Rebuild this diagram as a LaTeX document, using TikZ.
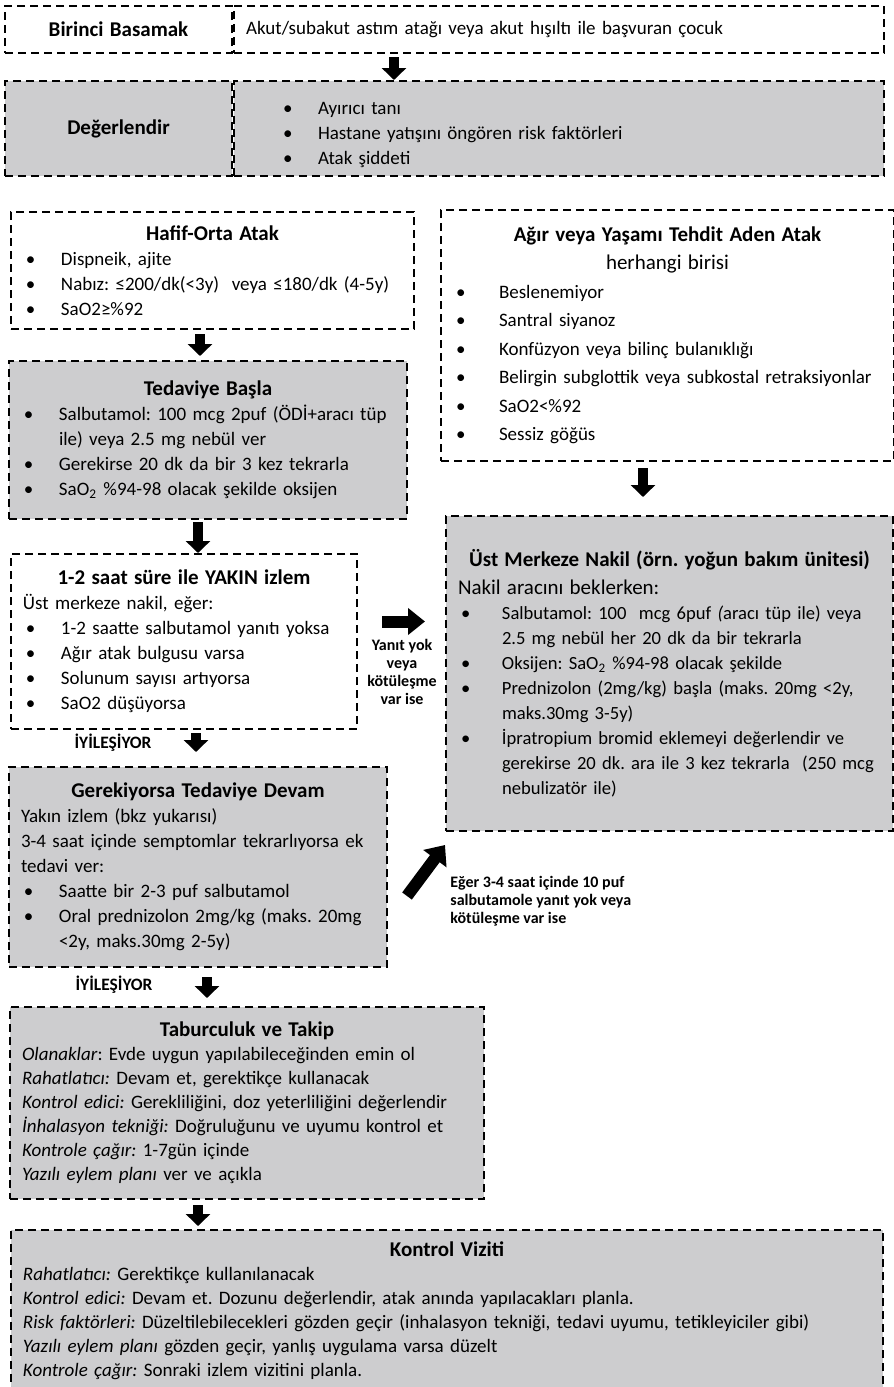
\documentclass[tikz,border=0pt]{standalone}
\usepackage{fontspec}
\setmainfont{Carlito}
\usetikzlibrary{positioning, arrows.meta}

\definecolor{kutugri}{RGB}{205,205,207}
\newlength\girinti
\setlength\girinti{19pt}
\newcommand{\baslik}[1]{{\centering\bfseries\fontsize{10.5}{13}\selectfont #1\par}}
\newcommand{\madde}[1]{\par\noindent\hangindent=\girinti\hangafter=1\makebox[\girinti][l]{\hspace{1.5pt}\textbullet}#1}

\tikzset{
    kutu/.style={draw, line width=1pt, dash pattern=on 4pt off 2.5pt, inner xsep=6pt, inner ysep=4pt,
                 align=left, anchor=north west, font=\fontsize{9.5}{12.5}\selectfont\frenchspacing},
    grikutu/.style={kutu, fill=kutugri},
    kalinok/.style={line width=5pt, -{Triangle[length=6pt, width=12pt]}},
    etiket/.style={inner sep=0pt, font=\bfseries\fontsize{8.7}{10}\selectfont},
    kucuketiket/.style={inner sep=0pt, font=\bfseries\fontsize{8}{9}\selectfont},
}

\begin{document}
\begin{tikzpicture}[x=1pt, y=1pt]
    \useasboundingbox (0,0) rectangle (447,-693.5);

    \node[kutu, text width=101.5pt, minimum height=23.5pt, align=center] (basamak) at (2,-2.5) {\textbf{\fontsize{10.5}{12}\selectfont Birinci Basamak}};
    \node[kutu, text width=313pt, minimum height=23.5pt] (akut) at (basamak.north east) {Akut/subakut astım atağı veya akut hışıltı ile başvuran çocuk};

    \node[grikutu, text width=101.5pt, minimum height=47.5pt, align=center, below right=13pt and 0pt of basamak.south west] (degerlendir) {\textbf{\fontsize{10.5}{12}\selectfont Değerlendir}};
    \node[grikutu, text width=313pt, minimum height=47.5pt] (risk) at (degerlendir.north east)
        {\leftskip=17pt\madde{Ayırıcı tanı}\madde{Hastane yatışını öngören risk faktörleri}\madde{Atak şiddeti}\par};

    % sol sutun
    \node[kutu, text width=189.5pt, minimum height=58.5pt] (hafif) at (5,-105.5)
        {\baslik{Hafif-Orta Atak}\madde{Dispneik, ajite}\madde{Nabız: ≤200/dk(<3y)\ \ veya ≤180/dk (4-5y)}\madde{SaO2≥\%92}\par};
    \node[grikutu, text width=187pt, minimum height=79pt, below right=15pt and -1pt of hafif.south west] (tedavi)
        {\baslik{Tedaviye Başla}\madde{Salbutamol: 100 mcg 2puf (ÖDİ+aracı tüp\newline ile) veya 2.5 mg nebül ver}\madde{Gerekirse 20 dk da bir 3 kez tekrarla}\madde{SaO\textsubscript{2} \%94-98 olacak şekilde oksijen}\par};
    \node[kutu, text width=161pt, minimum height=87.5pt, below right=16.5pt and 1pt of tedavi.south west] (yakin)
        {\baslik{1-2 saat süre ile YAKIN izlem}Üst merkeze nakil, eğer:\madde{1-2 saatte salbutamol yanıtı yoksa}\madde{Ağır atak bulgusu varsa}\madde{Solunum sayısı artıyorsa}\madde{SaO2 düşüyorsa}\par};
    \node[grikutu, text width=177pt, minimum height=100pt, below right=18pt and -1pt of yakin.south west] (devam)
        {\baslik{Gerekiyorsa Tedaviye Devam}Yakın izlem (bkz yukarısı)\par 3-4 saat içinde semptomlar tekrarlıyorsa ek\newline tedavi ver:\madde{Saatte bir 2-3 puf salbutamol}\madde{Oral prednizolon 2mg/kg (maks. 20mg\newline <2y, maks.30mg 2-5y)}\par};
    \node[grikutu, text width=225pt, minimum height=96pt, font=\fontsize{9.5}{12}\selectfont\frenchspacing, below right=19pt and 0.5pt of devam.south west] (taburcu)
        {\baslik{Taburculuk ve Takip}\textit{Olanaklar}: Evde uygun yapılabileceğinden emin ol\par
         \textit{Rahatlatıcı:} Devam et, gerektikçe kullanacak\par
         \textit{Kontrol edici:} Gerekliliğini, doz yeterliliğini değerlendir\par
         \textit{İnhalasyon tekniği:} Doğruluğunu ve uyumu kontrol et\par
         \textit{Kontrole çağır:} 1-7gün içinde\par
         \textit{Yazılı eylem planı} ver ve açıkla\par};
    \node[grikutu, text width=424pt, inner ysep=6pt, font=\fontsize{9.5}{12}\selectfont\frenchspacing, below right=14.5pt and 0.5pt of taburcu.south west] (kontrol)
        {\baslik{Kontrol Viziti}\textit{Rahatlatıcı:} Gerektikçe kullanılanacak\par
         \textit{Kontrol edici:} Devam et. Dozunu değerlendir, atak anında yapılacakları planla.\par
         \textit{Risk faktörleri:} Düzeltilebilecekleri gözden geçir (inhalasyon tekniği, tedavi uyumu, tetikleyiciler gibi)\par
         \textit{Yazılı eylem planı} gözden geçir, yanlış uygulama varsa düzelt\par
         \textit{Kontrole çağır:} Sonraki izlem vizitini planla.\par\rule{0pt}{14pt}};

    % sag sutun
    \node[kutu, text width=214.5pt, minimum height=125.5pt, font=\fontsize{9.5}{14.25}\selectfont\frenchspacing] (agir) at (220,-104.5)
        {\setlength\girinti{23pt}\baslik{Ağır veya Yaşamı Tehdit Aden Atak}{\centering\fontsize{10.5}{14.25}\selectfont herhangi birisi\par}\madde{Beslenemiyor}\madde{Santral siyanoz}\madde{Konfüzyon veya bilinç bulanıklığı}\madde{Belirgin subglottik veya subkostal retraksiyonlar}\madde{SaO2<\%92}\madde{Sessiz göğüs}\par};
    \node[grikutu, text width=211.5pt, minimum height=157.5pt, font=\fontsize{9.3}{12.5}\selectfont\frenchspacing, below right=26.5pt and 2.5pt of agir.south west] (nakil)
        {\setlength\girinti{22pt}\baslik{Üst Merkeze Nakil (örn. yoğun bakım ünitesi)}{\fontsize{10.5}{14}\selectfont Nakil aracını beklerken:\par}\madde{Salbutamol: 100\ \ mcg 6puf \textit{(}aracı tüp ile) veya\newline 2.5 mg nebül her 20 dk da bir tekrarla}\madde{Oksijen: SaO\textsubscript{2} \%94-98 olacak şekilde}\madde{Prednizolon (2mg/kg) başla (maks. 20mg <2y,\newline maks.30mg 3-5y)}\madde{İpratropium bromid eklemeyi değerlendir ve\newline gerekirse 20 dk. ara ile 3 kez tekrarla\ \ (250 mcg\newline nebulizatör ile)}\par};

    \node[etiket] (iyi1) at (56.5,-371.5) {İYİLEŞİYOR};
    \node[etiket] (iyi2) at (57,-492.5) {İYİLEŞİYOR};
    \node[kucuketiket, align=center] (yanityok) at (201,-336) {Yanıt yok\\veya\\kötüleşme\\var ise};
    \node[kucuketiket, align=left, anchor=west] (eger) at (225,-450.5) {Eğer 3-4 saat içinde 10 puf\\salbutamole yanıt yok veya\\kötüleşme var ise};

    % oklar
    \draw[kalinok] ([xshift=80.5pt, yshift=-1.5pt]akut.south west) -- ([xshift=80.5pt]risk.north west);
    \draw[kalinok, shorten >=2pt] ([xshift=95pt, yshift=-2pt]hafif.south west) -- ([xshift=95pt]hafif.south west |- tedavi.north);
    \draw[kalinok] ([xshift=95pt, yshift=-1pt]tedavi.south west) -- ([xshift=95pt]tedavi.south west |- yakin.north);
    \draw[kalinok, shorten >=7pt] ([xshift=93pt, yshift=-1.5pt]yakin.south west) -- ([xshift=93pt]yakin.south west |- devam.north);
    \draw[kalinok, shorten >=4pt] ([xshift=99.5pt, yshift=-4.5pt]devam.south west) -- ([xshift=99.5pt]devam.south west |- taburcu.north);
    \draw[kalinok, shorten >=1.5pt] ([xshift=94.5pt, yshift=-2.5pt]taburcu.south west) -- ([xshift=94.5pt]taburcu.south west |- kontrol.north);
    \draw[kalinok, shorten >=9pt] ([xshift=101.5pt, yshift=-3pt]agir.south west) -- ([xshift=101.5pt]agir.south west |- nakil.north);
    \draw[line width=6pt, -{Triangle[length=8.5pt, width=13pt]}, shorten <=12pt, shorten >=10pt]
        ([yshift=10pt]yakin.east) -- ([yshift=10pt]yakin.east -| nakil.west);
    \draw[line width=6pt, -{Triangle[length=8.5pt, width=14pt]}]
        ([shift={(9.5pt,-14.5pt)}]devam.east) -- ([yshift=-6.5pt]nakil.south west);
\end{tikzpicture}
\end{document}
